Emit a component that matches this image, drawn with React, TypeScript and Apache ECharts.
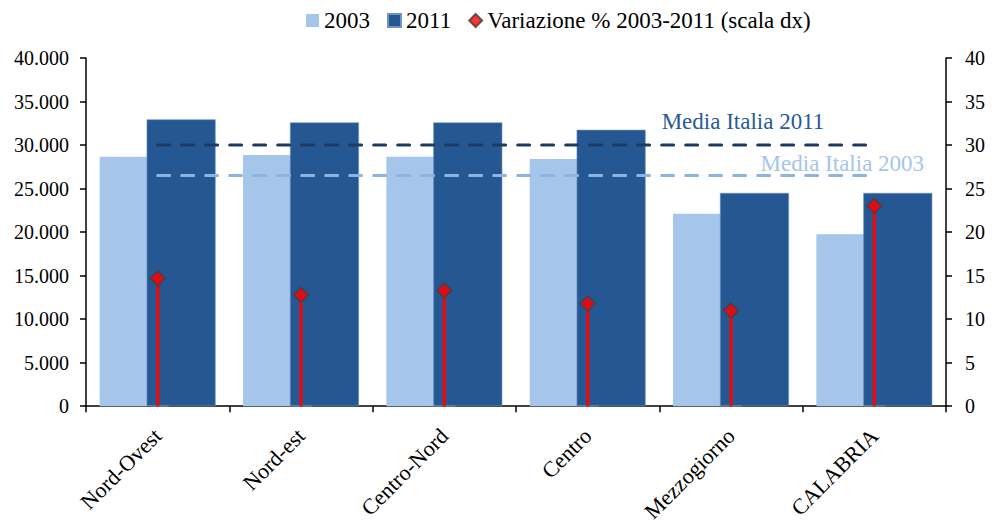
import React, { useEffect, useRef } from "react";
import * as echarts from "echarts";

const categories = ["Nord-Ovest", "Nord-est", "Centro-Nord", "Centro", "Mezzogiorno", "CALABRIA"];
const values2003 = [28650, 28850, 28650, 28400, 22100, 19750];
const values2011 = [32950, 32600, 32600, 31750, 24500, 24500];
const variazione = [14.7, 12.8, 13.3, 11.8, 11.0, 23.0];
const mediaItalia2011 = 30000;
const mediaItalia2003 = 26500;
const leftTicks = { min: 0, max: 40000, interval: 5000 };
const rightTicks = { min: 0, max: 40, interval: 5 };

const FONT = "'Liberation Serif', 'Times New Roman', serif";

function fmtThousands(v: number): string {
  const s = String(Math.round(v));
  return s.replace(/\B(?=(\d{3})+(?!\d))/g, ".");
}

export default function App() {
  const ref = useRef<HTMLDivElement>(null);
  useEffect(() => {
    if (!ref.current) return;
    const chart = echarts.init(ref.current, undefined, { renderer: "svg" });
    const line2011 = categories.map((_, i) =>
      i === 4
        ? {
            value: mediaItalia2011,
            symbol: "circle",
            symbolSize: 1,
            itemStyle: { color: "rgba(0,0,0,0)" },
            label: {
              show: true,
              position: "top",
              distance: 12,
              offset: [12, 0],
              formatter: "Media Italia 2011",
              color: "#2a5a96",
              fontSize: 23,
              fontFamily: FONT,
            },
          }
        : mediaItalia2011
    );
    const line2003 = categories.map((_, i) =>
      i === 5
        ? {
            value: mediaItalia2003,
            symbol: "circle",
            symbolSize: 1,
            itemStyle: { color: "rgba(0,0,0,0)" },
            label: {
              show: true,
              position: "top",
              distance: 0,
              offset: [-32, 0],
              formatter: "Media Italia 2003",
              color: "#a6c5ea",
              fontSize: 23,
              fontFamily: FONT,
            },
          }
        : mediaItalia2003
    );
    chart.setOption({
      animation: false,
      textStyle: { fontFamily: FONT },
      legend: {
        top: 4,
        left: 301,
        itemWidth: 13,
        itemHeight: 13,
        itemGap: 17,
        textStyle: { fontSize: 23, color: "#000", fontFamily: FONT },
        data: [
          { name: "2003", icon: "rect" },
          { name: "2011", icon: "rect" },
          { name: "Variazione % 2003-2011 (scala dx)", icon: "diamond" },
        ],
      },
      grid: { left: 86, right: 46, top: 58, bottom: 116, containLabel: false },
      xAxis: [
        {
          type: "category",
          data: categories,
          boundaryGap: true,
          axisLine: { lineStyle: { color: "#000", width: 1.5 } },
          axisTick: { show: true, length: 6, lineStyle: { color: "#000", width: 1.5 } },
          axisLabel: {
            rotate: 45,
            margin: 26,
            fontSize: 22,
            color: "#000",
            fontFamily: FONT,
            interval: 0,
          },
        },
        {
          type: "category",
          data: categories,
          boundaryGap: true,
          show: false,
          position: "bottom",
        },
      ],
      yAxis: [
        {
          type: "value",
          min: leftTicks.min,
          max: leftTicks.max,
          interval: leftTicks.interval,
          axisLine: { show: true, lineStyle: { color: "#000", width: 1.5 } },
          axisTick: { show: true, length: 6, lineStyle: { color: "#000", width: 1.5 } },
          splitLine: { show: false },
          axisLabel: {
            fontSize: 20,
            color: "#000",
            fontFamily: FONT,
            margin: 17,
            formatter: (v: number) => fmtThousands(v),
          },
        },
        {
          type: "value",
          position: "right",
          min: rightTicks.min,
          max: rightTicks.max,
          interval: rightTicks.interval,
          axisLine: { show: true, lineStyle: { color: "#000", width: 1.5 } },
          axisTick: { show: true, length: 6, lineStyle: { color: "#000", width: 1.5 } },
          splitLine: { show: false },
          axisLabel: { fontSize: 20, color: "#000", fontFamily: FONT, margin: 19 },
        },
      ],
      series: [
        {
          name: "2003",
          type: "bar",
          xAxisIndex: 0,
          yAxisIndex: 0,
          data: values2003,
          barWidth: 69,
          barGap: "-32%",
          itemStyle: { color: "#a6c5ea" },
          z: 2,
        },
        {
          name: "2011",
          type: "bar",
          xAxisIndex: 0,
          yAxisIndex: 0,
          data: values2011,
          barWidth: 69,
          barGap: "-32%",
          itemStyle: { color: "#255892", borderColor: "#6f93c4", borderWidth: 0.6 },
          z: 3,
        },
        {
          name: "Media Italia 2011",
          type: "line",
          xAxisIndex: 1,
          yAxisIndex: 0,
          data: line2011,
          symbol: "none",
          lineStyle: { color: "#1e3a62", width: 3, type: [12, 12], cap: "round" },
          z: 5,
        },
        {
          name: "Media Italia 2003",
          type: "line",
          xAxisIndex: 1,
          yAxisIndex: 0,
          data: line2003,
          symbol: "none",
          lineStyle: { color: "#8db3e2", width: 3, type: [12, 12], cap: "round" },
          z: 5,
        },
        {
          name: "stem",
          type: "bar",
          xAxisIndex: 1,
          yAxisIndex: 1,
          data: variazione,
          barWidth: 3,
          itemStyle: { color: "#ff0000" },
          z: 6,
        },
        {
          name: "Variazione % 2003-2011 (scala dx)",
          type: "scatter",
          xAxisIndex: 1,
          yAxisIndex: 1,
          data: variazione,
          symbol: "diamond",
          symbolSize: 15,
          itemStyle: { color: "#ff0000", borderColor: "#404040", borderWidth: 1.5 },
          z: 7,
        },
      ],
    });
    return () => chart.dispose();
  }, []);
  return (
    <div
      ref={ref}
      style={{ position: "absolute", left: 0, top: 0, width: 992, height: 525 }}
    />
  );
}
